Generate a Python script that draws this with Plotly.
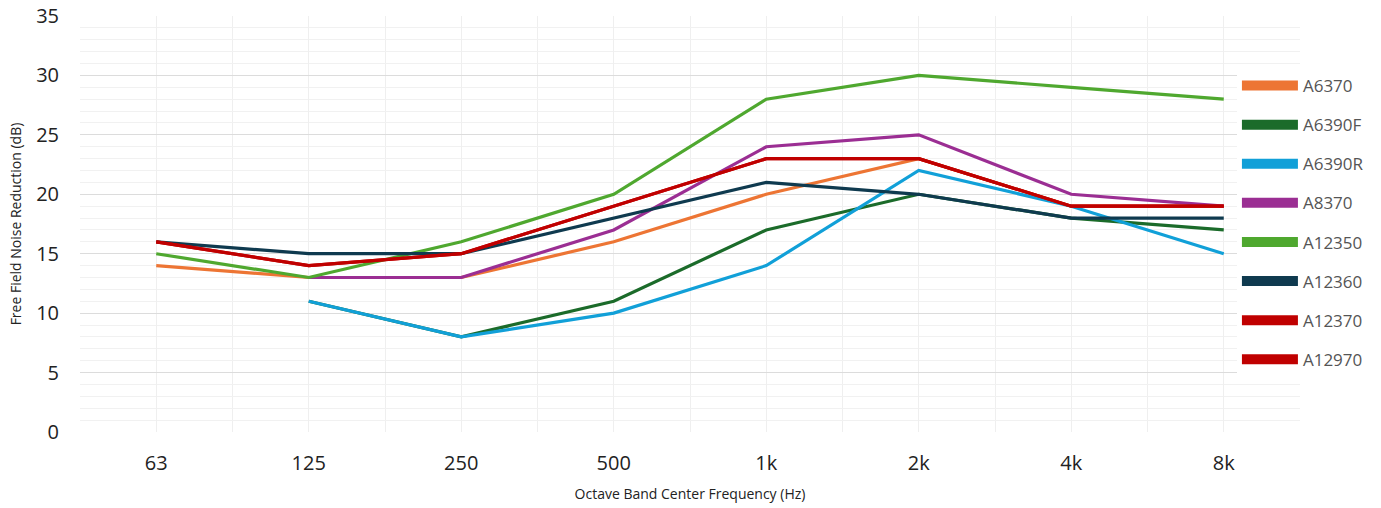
import plotly.graph_objects as go

categories = ["63", "125", "250", "500", "1k", "2k", "4k", "8k"]
series_names = ["A6370", "A6390F", "A6390R", "A8370", "A12350", "A12360", "A12370", "A12970"]
a6370 = [14, 13, 13, 16, 20, 23, 19, 19]
a6390f = [None, 11, 8, 11, 17, 20, 18, 17]
a6390r = [None, 11, 8, 10, 14, 22, 19, 15]
a8370 = [None, 13, 13, 17, 24, 25, 20, 19]
a12350 = [15, 13, 16, 20, 28, 30, 29, 28]
a12360 = [16, 15, 15, 18, 21, 20, 18, 18]
a12370 = [16, 14, 15, 19, 23, 23, 19, 19]
a12970 = [16, 14, 15, 19, 23, 23, 19, 19]
y_ticks = [0, 5, 10, 15, 20, 25, 30, 35]

values = [a6370, a6390f, a6390r, a8370, a12350, a12360, a12370, a12970]
colors = ["#ED7534", "#1B6B2A", "#11A0D8", "#9B2E93", "#4FA82F", "#0F3A4F", "#C00000", "#C00000"]

xpos = list(range(len(categories)))

fig = go.Figure()
for name, vals, col in zip(series_names, values, colors):
    fig.add_trace(go.Scatter(x=xpos, y=vals, mode="lines", name=name,
                             line=dict(color=col, width=3.2), showlegend=False,
                             hoverinfo="x+y+name"))
for name, col in zip(series_names, colors):
    fig.add_trace(go.Scatter(x=[None], y=[None], mode="lines", name=name,
                             line=dict(color=col, width=10), legendgroup=name,
                             showlegend=True))

fig.update_layout(
    width=1381, height=508,
    margin=dict(l=80, r=81, t=16, b=76, autoexpand=False),
    paper_bgcolor="white", plot_bgcolor="white",
    font=dict(family="Open Sans", color="#222"),
    legend=dict(x=0.9483, xanchor="left", y=0.875, yanchor="top",
                font=dict(size=17, color="#555"),
                tracegroupgap=14, bgcolor="white",
                itemwidth=56),
    xaxis=dict(range=[-0.5, 7.5], tickmode="array", tickvals=xpos, ticktext=categories,
               showgrid=True, gridcolor="#EFEFEF", gridwidth=1, automargin=False,
               minor=dict(tickmode="array", tickvals=[i - 0.5 for i in range(len(categories) + 1)],
                          showgrid=True, gridcolor="#EFEFEF", gridwidth=1),
               tickfont=dict(size=20, color="#222"), ticks="", zeroline=False,
               showline=False, ticklabelstandoff=17,
               title=dict(text="Octave Band Center Frequency (Hz)", font=dict(size=14, color="#222"),
                          standoff=14)),
    yaxis=dict(range=[0, 35], tickmode="array", tickvals=y_ticks, automargin=False,
               showgrid=True, gridcolor="#DCDCDC", gridwidth=1,
               minor=dict(dtick=1, showgrid=True, gridcolor="#F1F1F1", gridwidth=1),
               tickfont=dict(size=20, color="#222"), ticks="", zeroline=False,
               showline=False, ticklabelstandoff=20,
               title=dict(text="Free Field Noise Reduction (dB)", font=dict(size=14, color="#222"),
                          standoff=11)),
)
fig.write_html("out.html", post_script="document.body.style.margin='0';",
               config={"displayModeBar": False})
